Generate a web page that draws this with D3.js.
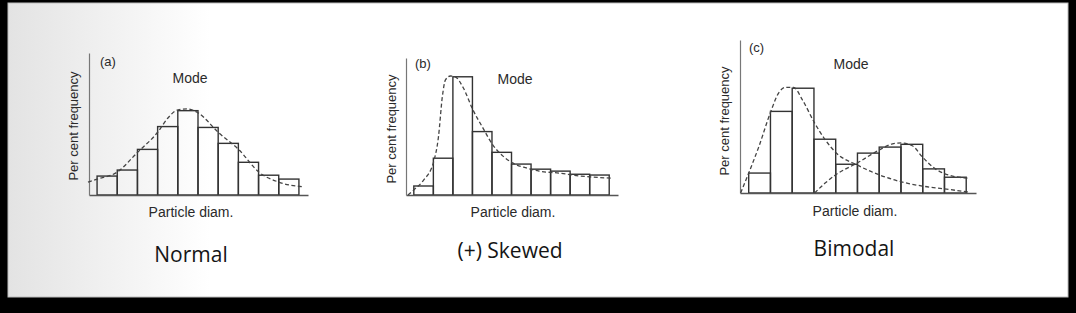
<!DOCTYPE html>
<html>
<head>
<meta charset="utf-8">
<script src="https://cdn.jsdelivr.net/npm/d3@7"></script>
<style>
  html, body { margin: 0; padding: 0; background: #000; }
  svg { display: block; }
  .scan { font-family: Arial, 'Liberation Sans', sans-serif; fill: #2a2a2a; }
  .title { font-family: 'Open Sans', sans-serif; fill: #151515; }
</style>
</head>
<body>
<div id="chart"></div>
<script>
// panel tags and captions
const tags = ['(a)', '(b)', '(c)']
const titles = ['Normal', '(+) Skewed', 'Bimodal']

// per cent frequency of the 10 size classes
const normalFreq = [4.4, 5.8, 10.6, 15.9, 19.6, 15.7, 12.0, 7.6, 4.6, 3.7]
const skewedFreq = [2.3, 9.4, 30.2, 16.2, 10.9, 7.9, 6.6, 6.1, 5.3, 5.1]
const bimodalFreq = [4.3, 17.6, 22.6, 11.6, 6.2, 8.6, 9.9, 10.5, 5.2, 3.4]

// dashed curves as [class position, per cent] points
const normalCurve = [
  [-0.45, 3.0], [0, 3.7], [0.99, 5.3], [1.98, 9.8], [3.02, 14.7], [3.51, 17.9],
  [4.01, 19.8], [4.5, 20.0], [5.0, 19.1], [6.04, 14.4], [7.03, 10.5], [8.02, 5.3],
  [9.0, 3.0], [10.2, 1.9]
]
const skewedCurve = [
  [-0.3, 0], [0, 1.3], [0.5, 3.8], [1.01, 8.4], [1.26, 14.8], [1.46, 25.1],
  [1.62, 29.4], [1.87, 30.4], [2.12, 30.2], [2.53, 27.4], [3.03, 21.7], [3.54, 17.1],
  [4.04, 12.8], [4.55, 10.0], [5.05, 8.2], [5.76, 6.9], [6.41, 6.1], [7.42, 5.6],
  [8.43, 4.9], [10.1, 4.3]
]
const bimodalCurveA = [
  [-0.37, 0], [0, 4.3], [0.46, 9.9], [1.01, 17.5], [1.38, 21.6], [1.7, 22.8],
  [2.06, 22.8], [2.48, 20.0], [3.03, 15.1], [3.53, 11.4], [3.99, 8.8], [5.0, 6.0],
  [6.01, 3.9], [7.02, 2.4], [7.98, 1.5], [8.99, 0.9], [10.1, 0.2]
]
const bimodalCurveB = [
  [3.03, 0], [3.53, 2.2], [3.99, 3.9], [5.0, 6.5], [6.01, 9.3], [6.61, 10.6],
  [7.02, 10.8], [7.52, 10.2], [7.98, 7.8], [8.58, 5.2], [9.17, 3.9], [10.1, 3.2]
]

const freqs = [normalFreq, skewedFreq, bimodalFreq]
const curves = [[normalCurve], [skewedCurve], [bimodalCurveA, bimodalCurveB]]

// placement of each small chart on the slide
const layout = [
  { left: 89, right: 308, base: 195, top: 53, yMax: 33,
    tag: [100, 66], mode: [190, 83], ylab: [78, 126], xlab: [191, 217], title: [191, 262] },
  { left: 406, right: 618, base: 195, top: 58, yMax: 35,
    tag: [415, 68], mode: [515, 84], ylab: [396, 129], xlab: [513, 217], title: [510, 258] },
  { left: 740, right: 976, base: 193, top: 40, yMax: 33,
    tag: [749, 52], mode: [851, 69], ylab: [729, 121], xlab: [855, 216], title: [854, 256] }
]

const width = 1076
const height = 313

const svg = d3.select('#chart').append('svg')
  .attr('width', width)
  .attr('height', height)

// slide background: white card with a grey fade on the left
const grad = svg.append('defs').append('linearGradient')
  .attr('id', 'fade')
  .attr('gradientUnits', 'userSpaceOnUse')
  .attr('x1', 8).attr('x2', 210).attr('y1', 0).attr('y2', 0)
grad.append('stop').attr('offset', 0).attr('stop-color', '#e3e3e3')
grad.append('stop').attr('offset', 1).attr('stop-color', '#ffffff')

svg.append('rect').attr('width', width).attr('height', height).attr('fill', '#000')
svg.append('rect')
  .attr('x', 8).attr('y', 3)
  .attr('width', 1060).attr('height', 294)
  .attr('fill', 'url(#fade)')
  .attr('stroke', '#bdbdbd')
  .attr('stroke-width', 1)

layout.forEach((L, k) => {
  const x = d3.scaleLinear().domain([-0.4, 10.45]).range([L.left, L.right])
  const y = d3.scaleLinear().domain([0, L.yMax]).range([L.base, L.top])
  const g = svg.append('g').attr('class', 'panel')

  // histogram bars
  g.selectAll('rect.bar')
    .data(freqs[k])
    .join('rect')
    .attr('class', 'bar')
    .attr('x', (d, i) => x(i))
    .attr('y', (d) => y(d))
    .attr('width', (d, i) => x(i + 1) - x(i))
    .attr('height', (d) => y(0) - y(d))
    .attr('fill', 'none')
    .attr('stroke', '#333')
    .attr('stroke-width', 1.4)

  // axes, no ticks, just the lines
  g.append('g')
    .attr('transform', `translate(0,${L.base})`)
    .call(d3.axisBottom(x).tickValues([]).tickSizeOuter(0))
    .select('.domain').attr('stroke', '#555').attr('stroke-width', 1.4)
  g.append('g')
    .attr('transform', `translate(${L.left},0)`)
    .call(d3.axisLeft(y).tickValues([]).tickSizeOuter(0))
    .select('.domain').attr('stroke', '#777').attr('stroke-width', 1.2)

  // fitted dashed curves
  const line = d3.line()
    .x((d) => x(d[0]))
    .y((d) => y(d[1]))
    .curve(d3.curveMonotoneX)
  g.selectAll('path.fit')
    .data(curves[k])
    .join('path')
    .attr('class', 'fit')
    .attr('d', line)
    .attr('fill', 'none')
    .attr('stroke', '#444')
    .attr('stroke-width', 1.3)
    .attr('stroke-dasharray', '4,2.5')

  // labels
  g.append('text').attr('class', 'scan')
    .attr('x', L.tag[0]).attr('y', L.tag[1])
    .style('font-size', '13px')
    .text(tags[k])
  g.append('text').attr('class', 'scan')
    .attr('x', L.mode[0]).attr('y', L.mode[1])
    .attr('text-anchor', 'middle')
    .style('font-size', '14px')
    .text('Mode')
  g.append('text').attr('class', 'scan')
    .attr('transform', `translate(${L.ylab[0]},${L.ylab[1]}) rotate(-90)`)
    .attr('text-anchor', 'middle')
    .style('font-size', '13px')
    .text('Per cent frequency')
  g.append('text').attr('class', 'scan')
    .attr('x', L.xlab[0]).attr('y', L.xlab[1])
    .attr('text-anchor', 'middle')
    .style('font-size', '14px')
    .text('Particle diam.')
  g.append('text').attr('class', 'title')
    .attr('x', L.title[0]).attr('y', L.title[1])
    .attr('text-anchor', 'middle')
    .style('font-size', '21px')
    .text(titles[k])
})
</script>
</body>
</html>
